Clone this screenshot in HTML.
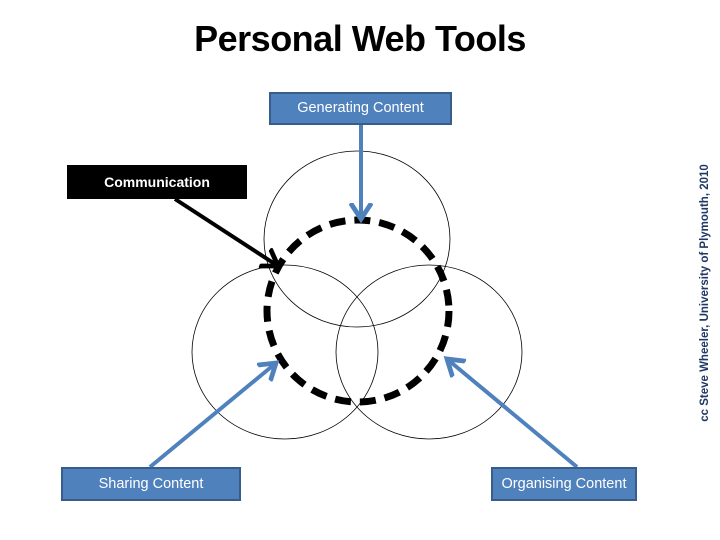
<!DOCTYPE html>
<html><head><meta charset="utf-8"><style>
html,body{margin:0;padding:0;background:#fff;}
body{width:720px;height:540px;position:relative;overflow:hidden;font-family:"Liberation Sans",sans-serif;}
.t{position:absolute;left:0;width:720px;top:18px;text-align:center;font-weight:bold;font-size:36px;letter-spacing:-0.5px;color:#000;}
.b{position:absolute;box-sizing:border-box;background:#4f81bd;border:2px solid #385d8a;color:#fff;font-size:14.5px;text-align:center;}
.v{position:absolute;left:705px;top:293px;transform:translate(-50%,-50%) rotate(-90deg);white-space:nowrap;font-size:11.5px;font-weight:bold;color:#1f3864;}
</style></head><body>
<div class="t">Personal Web Tools</div>
<svg width="720" height="540" style="position:absolute;left:0;top:0">
<defs>
<marker id="ab" markerWidth="6" markerHeight="6" refX="4" refY="3" orient="auto" markerUnits="strokeWidth"><path d="M0,0.4 L4,3 L0,5.6" fill="none" stroke="#4f81bd" stroke-width="1.2"/></marker>
<marker id="ak" markerWidth="6" markerHeight="6" refX="4" refY="3" orient="auto" markerUnits="strokeWidth"><path d="M0,0.4 L4,3 L0,5.6" fill="none" stroke="#000" stroke-width="1.2"/></marker>
</defs>
<ellipse cx="357" cy="239" rx="93" ry="88" fill="none" stroke="#000" stroke-width="0.8"/>
<ellipse cx="285" cy="352" rx="93" ry="87" fill="none" stroke="#000" stroke-width="0.8"/>
<ellipse cx="429" cy="352" rx="93" ry="87" fill="none" stroke="#000" stroke-width="0.8"/>
<circle cx="358" cy="311" r="91" fill="none" stroke="#000" stroke-width="7" stroke-dasharray="16,9"/>
<line x1="361" y1="124" x2="361" y2="219" stroke="#4f81bd" stroke-width="4" marker-end="url(#ab)"/>
<line x1="175" y1="199" x2="278" y2="266" stroke="#000" stroke-width="4" marker-end="url(#ak)"/>
<line x1="150" y1="467" x2="276" y2="363" stroke="#4f81bd" stroke-width="4" marker-end="url(#ab)"/>
<line x1="577" y1="467" x2="447" y2="359" stroke="#4f81bd" stroke-width="4" marker-end="url(#ab)"/>
</svg>
<div class="b" style="left:269px;top:92px;width:183px;height:33px;line-height:29px">Generating Content</div>
<div class="b" style="left:67px;top:165px;width:180px;height:34px;line-height:34px;background:#000;border:none;font-weight:bold;font-size:14px">Communication</div>
<div class="b" style="left:61px;top:467px;width:180px;height:34px;line-height:30px">Sharing Content</div>
<div class="b" style="left:491px;top:467px;width:146px;height:34px;line-height:30px">Organising Content</div>
<div class="v">cc Steve Wheeler, University of Plymouth, 2010</div>
</body></html>
